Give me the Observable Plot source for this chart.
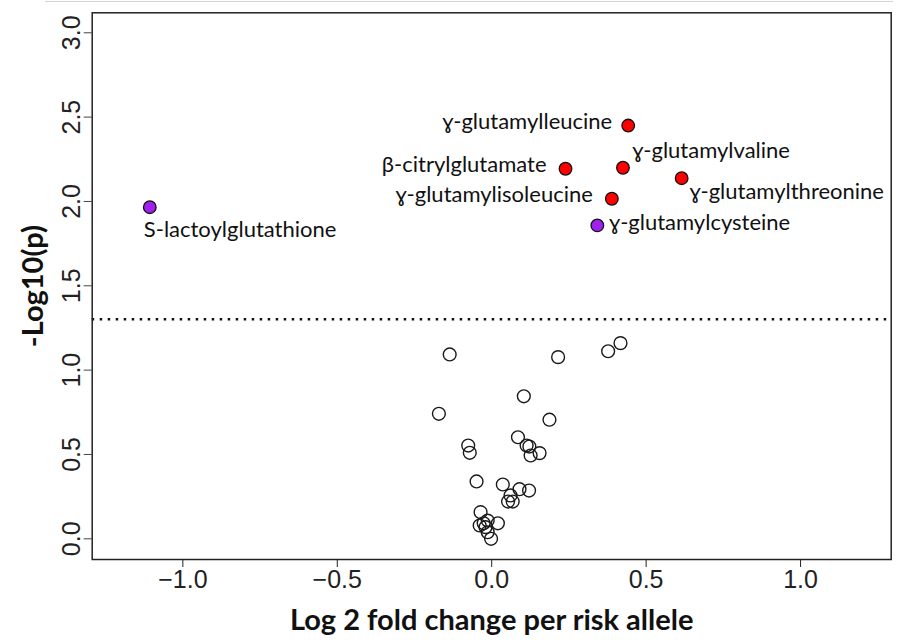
<!DOCTYPE html>
<html>
<head>
<meta charset="utf-8">
<script src="https://cdn.jsdelivr.net/npm/d3@7"></script>
<script src="https://cdn.jsdelivr.net/npm/@observablehq/plot@0.6"></script>
<style>
  body { margin: 0; background: #fff; }
  #wrap { position: relative; width: 906px; height: 640px; }
  #edge { position: absolute; left: 45px; top: 0.5px; width: 848px; height: 0; border-top: 1.6px solid #d4d4d4; }
</style>
</head>
<body>
<div id="wrap"></div>
<script>
// Significant (labelled) metabolites
const sigNames = ["ɣ-glutamylleucine", "β-citrylglutamate", "ɣ-glutamylvaline", "ɣ-glutamylthreonine", "ɣ-glutamylisoleucine", "ɣ-glutamylcysteine", "S-lactoylglutathione"];
const sigLog2FC = [0.442, 0.239, 0.425, 0.615, 0.389, 0.342, -1.107];
const sigNegLogP = [2.450, 2.194, 2.200, 2.138, 2.016, 1.858, 1.966];
const sigClass = ["peptide", "peptide", "peptide", "peptide", "peptide", "glutathione", "glutathione"];

// Non-significant metabolites (open circles)
const nsLog2FC = [-0.136, 0.215, 0.377, 0.417, 0.104, -0.171, 0.187, -0.076, -0.071, 0.085, 0.113, 0.122, 0.126, 0.155, -0.049, 0.036, 0.090, 0.121, 0.061, 0.053, 0.068, -0.036, 0.020, -0.013, -0.026, -0.039, -0.020, -0.013, -0.002];
const nsNegLogP = [1.093, 1.077, 1.112, 1.160, 0.845, 0.741, 0.706, 0.553, 0.510, 0.602, 0.553, 0.547, 0.494, 0.508, 0.340, 0.322, 0.294, 0.286, 0.257, 0.221, 0.221, 0.158, 0.092, 0.108, 0.092, 0.079, 0.069, 0.039, 0.000];

const xTicks = [-1.0, -0.5, 0.0, 0.5, 1.0];
const yTicks = [0.0, 0.5, 1.0, 1.5, 2.0, 2.5, 3.0];
const threshold = [1.301];
const xTitle = "Log 2 fold change per risk allele";
const yTitle = "-Log10(p)";

const sig = sigNames.map((name, i) => ({name, x: sigLog2FC[i], y: sigNegLogP[i], cls: sigClass[i]}));
const ns = nsLog2FC.map((x, i) => ({x, y: nsNegLogP[i]}));

const fmt = d => (d < 0 ? "\u2212" : "") + Math.abs(d).toFixed(1);
const tickFont = "'Liberation Sans', Arial, sans-serif";
const labelFont = "Lato, 'Noto Sans', 'DejaVu Sans', sans-serif";

// label placement relative to each point
const place = {
  "ɣ-glutamylleucine":   {textAnchor: "end",   dx: -16, dy: -3.5},
  "β-citrylglutamate":   {textAnchor: "end",   dx: -19, dy: -3.5},
  "ɣ-glutamylisoleucine":{textAnchor: "end",   dx: -19, dy: -3.5},
  "ɣ-glutamylvaline":    {textAnchor: "start", dx: 9.5, dy: -16.5},
  "ɣ-glutamylthreonine": {textAnchor: "start", dx: 8,   dy: 14},
  "ɣ-glutamylcysteine":  {textAnchor: "start", dx: 12,  dy: -2},
  "S-lactoylglutathione":{textAnchor: "start", dx: -6,  dy: 23}
};

const chart = Plot.plot({
  width: 906,
  height: 640,
  marginLeft: 91.7,
  marginRight: 15.3,
  marginTop: 12.3,
  marginBottom: 81,
  style: {background: "#fff", overflow: "visible"},
  x: {domain: [-1.2935, 1.2935], label: null},
  y: {domain: [-0.1227, 3.1185], label: null},
  color: {domain: ["peptide", "glutathione"], range: ["#ff0000", "#a020f0"]},
  marks: [
    Plot.axisX({ticks: xTicks, tickSize: 8, tickPadding: 3, tickFormat: fmt, fontSize: 25, fontFamily: tickFont, color: "#222", label: null}),
    Plot.axisY({ticks: yTicks, tickSize: 8, tickFormat: () => "", color: "#444", label: null}),
    Plot.text(yTicks, {frameAnchor: "left", y: d => d, text: fmt, rotate: -90, dx: -20, textAnchor: "middle", lineAnchor: "middle", fontSize: 25, fontFamily: tickFont, fill: "#222"}),
    Plot.ruleY(threshold, {stroke: "#111", strokeWidth: 2.5, strokeDasharray: "2.5,5.5"}),
    Plot.dot(ns, {x: "x", y: "y", r: 6.4, stroke: "#1a1a1a", strokeWidth: 1.4, fill: "none"}),
    Plot.dot(sig, {x: "x", y: "y", r: 6.3, fill: "cls", stroke: "#111", strokeWidth: 1.3}),
    ...sig.map(d => Plot.text([d], {x: "x", y: "y", text: "name", lineAnchor: "middle", fontSize: 22, fontFamily: labelFont, fill: "#111", ...place[d.name]})),
    Plot.text([xTitle], {frameAnchor: "bottom", text: d => d, dy: 61.5, lineAnchor: "middle", fontSize: 29, fontWeight: "bold", fontFamily: labelFont, fill: "#111"}),
    Plot.text([yTitle], {frameAnchor: "left", text: d => d, dx: -58.7, rotate: -90, textAnchor: "middle", lineAnchor: "middle", fontSize: 29, fontWeight: "bold", fontFamily: labelFont, fill: "#111"}),
    Plot.frame({stroke: "#222", strokeWidth: 1.5})
  ]
});

const wrap = document.getElementById("wrap");
wrap.appendChild(chart);
const edge = document.createElement("div");
edge.id = "edge";
wrap.appendChild(edge);
</script>
</body>
</html>
